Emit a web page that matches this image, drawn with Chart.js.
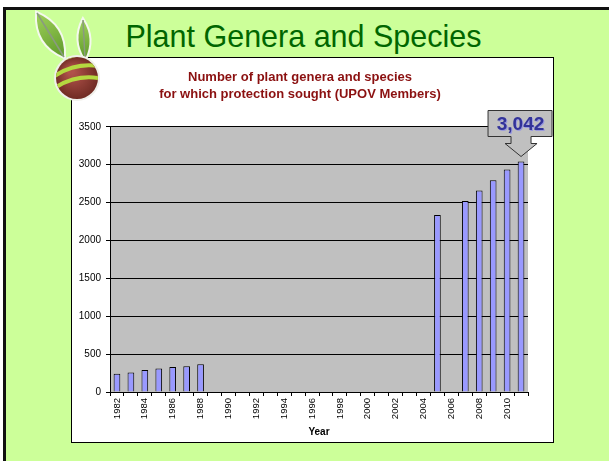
<!DOCTYPE html>
<html>
<head>
<meta charset="utf-8">
<script src="https://cdn.jsdelivr.net/npm/chart.js@4"></script>
<style>
  body { margin: 0; background: #fff; width: 609px; height: 461px; overflow: hidden; position: relative; font-family: "Liberation Sans", Arial, sans-serif; }
  #slide { position: absolute; left: 3px; top: 7px; width: 700px; height: 500px; background: #CCFF99; border-left: 3px solid #111; border-top: 3px solid #111; box-sizing: border-box; }
  #heading { position: absolute; left: 0; top: 19px; width: 607px; text-align: center; color: #006600; font-size: 30.5px; line-height: 34px; }
  #box { position: absolute; left: 71px; top: 57px; width: 483px; height: 386px; background: #fff; border: 1px solid #000; box-sizing: border-box; }
  #wrap { position: absolute; left: 72px; top: 58px; width: 481px; height: 384px; }
  #logo { position: absolute; left: 25px; top: 5px; }
</style>
</head>
<body>
<div id="slide"></div>
<div id="heading">Plant Genera and Species</div>
<div id="box"></div>
<div id="wrap"><canvas id="myChart" width="481" height="384"></canvas></div>
<canvas id="logo" width="90" height="105"></canvas>
<script>
const years = [
  "1982", "1983", "1984", "1985", "1986", "1987", "1988", "1989", "1990", "1991",
  "1992", "1993", "1994", "1995", "1996", "1997", "1998", "1999", "2000", "2001",
  "2002", "2003", "2004", "2005", "2006", "2007", "2008", "2009", "2010", "2011",
];
const counts = [
  240, 256, 290, 310, 330, 340, 365, null, null, null,
  null, null, null, null, null, null, null, null, null, null,
  null, null, null, 2335, null, 2520, 2660, 2795, 2935, 3042,
];
const chartTitle = ["Number of plant genera and species", "for which protection sought (UPOV Members)"];
const calloutText = "3,042";

// grey plot area like the old Excel chart
const plotBg = {
  id: "plotBg",
  beforeDraw(chart) {
    const { ctx, chartArea: a } = chart;
    ctx.save();
    ctx.fillStyle = "#C0C0C0";
    ctx.fillRect(a.left, a.top, a.right - a.left, a.bottom - a.top);
    ctx.restore();
  },
};

// the "3,042" callout pointing at the last bar
const callout = {
  id: "callout",
  afterDatasetsDraw(chart) {
    const { ctx } = chart;
    const last = counts.length - 1;
    const x = chart.scales.x.getPixelForValue(last);
    const tip = chart.scales.y.getPixelForValue(counts[last]) - 5;
    const boxTop = tip - 46, boxBot = tip - 20, headTop = tip - 13;
    const left = x - 33, right = x + 31;
    ctx.save();
    ctx.beginPath();
    ctx.moveTo(left, boxTop);
    ctx.lineTo(right, boxTop);
    ctx.lineTo(right, boxBot);
    ctx.lineTo(x + 10, boxBot);
    ctx.lineTo(x + 10, headTop);
    ctx.lineTo(x + 16, headTop);
    ctx.lineTo(x, tip);
    ctx.lineTo(x - 16, headTop);
    ctx.lineTo(x - 10, headTop);
    ctx.lineTo(x - 10, boxBot);
    ctx.lineTo(left, boxBot);
    ctx.closePath();
    ctx.fillStyle = "#C0C0C0";
    ctx.fill();
    ctx.strokeStyle = "#333";
    ctx.lineWidth = 1;
    ctx.stroke();
    ctx.font = "bold 19px 'Liberation Sans', Arial, sans-serif";
    ctx.textAlign = "center";
    ctx.textBaseline = "middle";
    ctx.fillStyle = "#9999dd";
    ctx.fillText(calloutText, x + 0.5, (boxTop + boxBot) / 2 + 2);
    ctx.fillStyle = "#333399";
    ctx.fillText(calloutText, x - 0.5, (boxTop + boxBot) / 2 + 1);
    ctx.restore();
  },
};

const ctx = document.getElementById("myChart").getContext("2d");
new Chart(ctx, {
  type: "bar",
  data: {
    labels: years,
    datasets: [
      {
        data: counts,
        backgroundColor: "#9999FF",
        borderColor: "#000",
        borderWidth: 1,
        barPercentage: 0.48,
        categoryPercentage: 1,
      },
    ],
  },
  options: {
    responsive: false,
    animation: false,
    layout: { padding: { left: 0, right: 25, top: 0, bottom: 4 } },
    plugins: {
      legend: { display: false },
      tooltip: { enabled: false },
      title: {
        display: true,
        text: chartTitle,
        color: "#8B1010",
        font: { family: "'Liberation Sans', Arial, sans-serif", size: 13, weight: "bold", lineHeight: 1.3 },
        padding: { top: 11, bottom: 24 },
      },
    },
    scales: {
      x: {
        grid: { offset: true, drawOnChartArea: false, color: "#000", tickLength: 4 },
        border: { color: "#000" },
        ticks: {
          autoSkip: false,
          maxRotation: 90,
          minRotation: 90,
          color: "#000",
          padding: 2,
          font: { family: "'Liberation Sans', Arial, sans-serif", size: 9.5 },
          callback: (v, i) => (i % 2 === 0 ? years[i] : ""),
        },
        title: {
          display: true,
          text: "Year",
          color: "#000",
          font: { family: "'Liberation Sans', Arial, sans-serif", size: 10, weight: "bold" },
          padding: { top: 2, bottom: 0 },
        },
        afterFit: (s) => { s.height = 46; },
      },
      y: {
        min: 0,
        max: 3500,
        grid: { color: "#000", tickLength: 4 },
        border: { color: "#000" },
        ticks: {
          stepSize: 500,
          color: "#000",
          padding: 5,
          font: { family: "'Liberation Sans', Arial, sans-serif", size: 10 },
          callback: (v) => String(v),
        },
        afterFit: (s) => { s.width = 38; },
      },
    },
  },
  plugins: [plotBg, callout],
});

// little leaf-and-seed logo in the corner
const lg = document.getElementById("logo").getContext("2d");
const leaf = (bx, by, tx, ty, w) => {
  const mx = (bx + tx) / 2, my = (by + ty) / 2;
  const dx = ty - by, dy = bx - tx, len = Math.hypot(dx, dy);
  const nx = dx / len * w, ny = dy / len * w;
  lg.beginPath();
  lg.moveTo(bx, by);
  lg.quadraticCurveTo(mx + nx, my + ny, tx, ty);
  lg.quadraticCurveTo(mx - nx, my - ny, bx, by);
  lg.closePath();
  lg.lineWidth = 4;
  lg.strokeStyle = "#f4f8ee";
  lg.stroke();
  const g = lg.createLinearGradient(bx, by, tx, ty);
  g.addColorStop(0, "#5f9a2a");
  g.addColorStop(1, "#9fd05a");
  lg.fillStyle = g;
  lg.fill();
  lg.beginPath();
  lg.moveTo(bx, by);
  lg.lineTo(tx, ty);
  lg.lineWidth = 1.5;
  lg.strokeStyle = "#8a9a80";
  lg.stroke();
};
leaf(39, 52, 12, 8, 18);
leaf(60, 54, 58, 15, 11);
lg.beginPath();
lg.arc(52, 73, 21, 0, Math.PI * 2);
lg.lineWidth = 4;
lg.strokeStyle = "#f0f0ea";
lg.stroke();
const bg = lg.createRadialGradient(46, 66, 3, 52, 73, 22);
bg.addColorStop(0, "#b0524a");
bg.addColorStop(1, "#6e2a22");
lg.fillStyle = bg;
lg.fill();
lg.save();
lg.beginPath();
lg.arc(52, 73, 21, 0, Math.PI * 2);
lg.clip();
lg.strokeStyle = "#b5d840";
lg.lineWidth = 4;
[-12, 0, 12].forEach((o) => {
  lg.beginPath();
  lg.moveTo(28, 72 + o);
  lg.quadraticCurveTo(52, 56 + o, 78, 62 + o);
  lg.stroke();
});
lg.restore();
</script>
</body>
</html>
